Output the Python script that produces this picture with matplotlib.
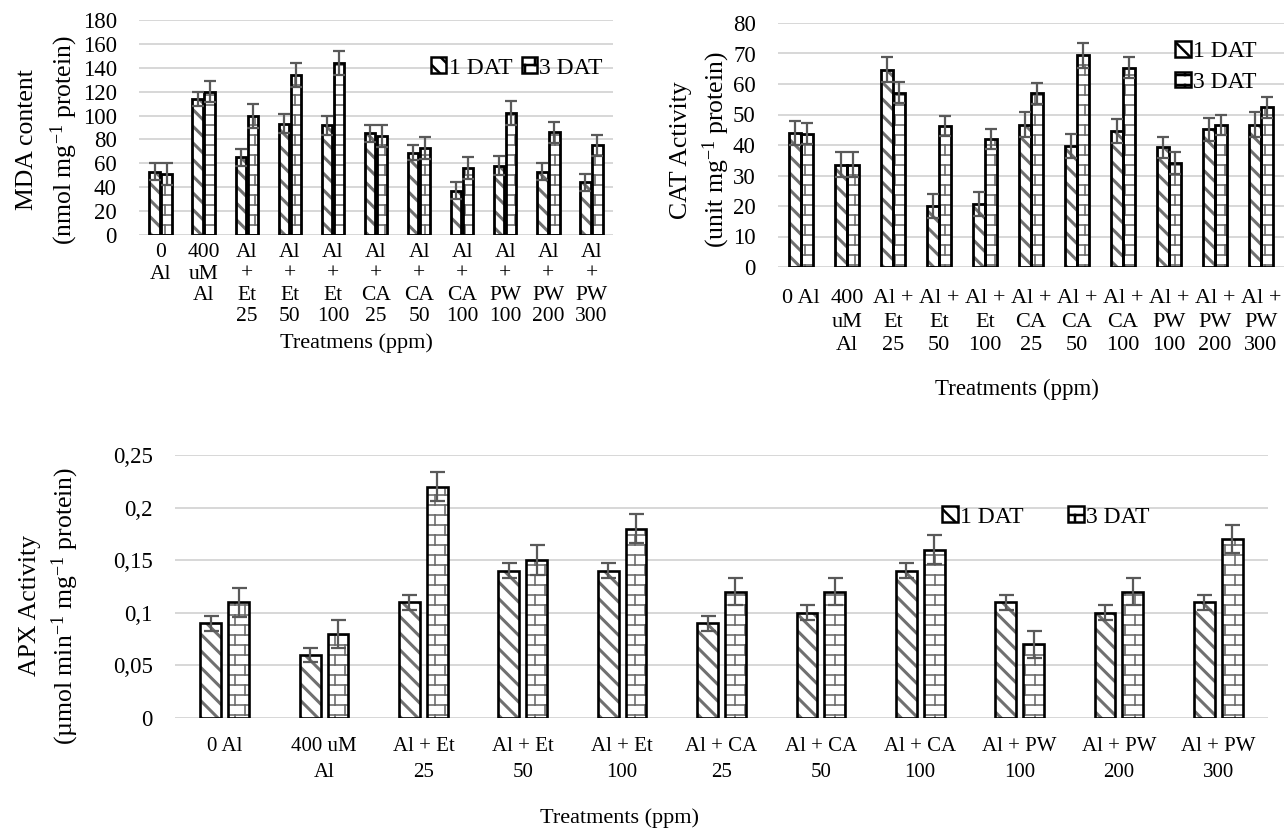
import numpy as np
import matplotlib
matplotlib.use("Agg")
import matplotlib.pyplot as plt
import matplotlib.hatch as mhatch
from matplotlib.path import Path
from matplotlib.patches import Patch

# ---------------- data ----------------
MDA_LABELS = ['0\nAl', '400\nuM\nAl', 'Al\n+\nEt\n25', 'Al\n+\nEt\n50', 'Al\n+\nEt\n100',
              'Al\n+\nCA\n25', 'Al\n+\nCA\n50', 'Al\n+\nCA\n100', 'Al\n+\nPW\n100',
              'Al\n+\nPW\n200', 'Al\n+\nPW\n300']
MDA_1DAT = [53, 114, 65, 93, 92, 85, 69, 37, 58, 53, 44]
MDA_1DAT_ERR = [7, 6, 7, 8, 8, 7, 6, 7, 8, 7, 7]
MDA_3DAT = [51, 120, 100, 134, 144, 83, 73, 56, 102, 86, 75]
MDA_3DAT_ERR = [9, 9, 10, 10, 10, 9, 9, 9, 10, 9, 9]
MDA_YTICKS = [0, 20, 40, 60, 80, 100, 120, 140, 160, 180]

CAT_LABELS = ['0 Al', '400\nuM\nAl', 'Al +\nEt\n25', 'Al +\nEt\n50', 'Al +\nEt\n100',
              'Al +\nCA\n25', 'Al +\nCA\n50', 'Al +\nCA\n100', 'Al +\nPW\n100',
              'Al +\nPW\n200', 'Al +\nPW\n300']
CAT_1DAT = [44, 33.6, 64.7, 20, 20.6, 46.7, 39.6, 44.6, 39.2, 45.1, 46.7]
CAT_1DAT_ERR = [4, 4, 4, 4, 4, 4, 4, 4, 3.5, 3.8, 4]
CAT_3DAT = [43.7, 33.6, 57.2, 46.3, 42.1, 56.9, 69.4, 65.3, 34.1, 46.7, 52.3]
CAT_3DAT_ERR = [3.4, 4, 3.5, 3.3, 3.3, 3.3, 4, 3.4, 3.6, 3.3, 3.5]
CAT_YTICKS = [0, 10, 20, 30, 40, 50, 60, 70, 80]

APX_LABELS = ['0 Al', '400 uM\nAl', 'Al + Et\n25', 'Al + Et\n50', 'Al + Et\n100',
              'Al + CA\n25', 'Al + CA\n50', 'Al + CA\n100', 'Al + PW\n100',
              'Al + PW\n200', 'Al + PW\n300']
APX_1DAT = [0.09, 0.06, 0.11, 0.14, 0.14, 0.09, 0.10, 0.14, 0.11, 0.10, 0.11]
APX_1DAT_ERR = [0.007, 0.007, 0.007, 0.007, 0.007, 0.007, 0.007, 0.007, 0.007, 0.007, 0.007]
APX_3DAT = [0.11, 0.08, 0.22, 0.15, 0.18, 0.12, 0.12, 0.16, 0.07, 0.12, 0.17]
APX_3DAT_ERR = [0.014, 0.013, 0.014, 0.014, 0.014, 0.013, 0.013, 0.014, 0.013, 0.013, 0.013]
APX_YTICKS = [0, 0.05, 0.1, 0.15, 0.2, 0.25]
APX_YTICKLABELS = ['0', '0,05', '0,1', '0,15', '0,2', '0,25']

SERIES = ['1 DAT', '3 DAT']


# ---------------- brick hatch (replaces the 'O' pattern) ----------------
class BrickHatch(mhatch.HatchPatternBase):
    def __init__(self, hatch, density):
        k = hatch.count('O')
        self.rows = 10 * k
        self.cols = self.rows // 2
        if self.rows:
            self.num_vertices = 2 * self.rows + 2 * self.rows * self.cols + 2 * self.cols
        else:
            self.num_vertices = 0

    def set_vertices_and_codes(self, vertices, codes):
        n = self.rows
        h = 1.0 / n
        i = 0

        def seg(x0, y0, x1, y1):
            nonlocal i
            vertices[i] = (x0, y0)
            vertices[i + 1] = (x1, y1)
            codes[i] = Path.MOVETO
            codes[i + 1] = Path.LINETO
            i += 2

        for r in range(n):
            y = (r + 0.5) * h
            seg(0.0, y, 1.0, y)
        for r in range(n):
            for c in range(self.cols):
                x = (2 * c + (r % 2) + 0.5) * h
                y0 = (r + 0.5) * h
                if r < n - 1:
                    seg(x, y0, x, y0 + h)
                else:
                    seg(x, y0, x, 1.0)
                    seg(x, 0.0, x, 0.5 * h)


mhatch._hatch_types = [BrickHatch if t is mhatch.LargeCircles else t
                       for t in mhatch._hatch_types]

# ---------------- style ----------------
plt.rcParams['font.family'] = ['Liberation Serif', 'DejaVu Serif']
plt.rcParams['mathtext.fontset'] = 'custom'
plt.rcParams['mathtext.rm'] = 'Liberation Serif'
plt.rcParams['mathtext.it'] = 'Liberation Serif:italic'
plt.rcParams['hatch.linewidth'] = 1.8

W, H = 1286, 834
STRIPE = '#707070'
BRICK = '#6e6e6e'
ERRC = '#595959'
GRIDC = '#d4d4d4'
STRIPE_HATCH = '\\\\'
BRICK_HATCH = 'O'

fig = plt.figure(figsize=(W / 100, H / 100), dpi=100)
fig.patch.set_facecolor('white')


def px_axes(x0, y0, x1, y1):
    return fig.add_axes([x0 / W, 1 - y1 / H, (x1 - x0) / W, (y1 - y0) / H])


def set_hlw(container, lw):
    for p in container.patches:
        if hasattr(p, 'set_hatch_linewidth'):
            p.set_hatch_linewidth(lw)


def panel(ax, v1, e1, v3, e3, width, off, cap, edge_lw):
    x = np.arange(len(v1))
    with plt.rc_context({'hatch.linewidth': 2.2}):
        b1 = ax.bar(x - off, v1, width, color='white', edgecolor=STRIPE, hatch=STRIPE_HATCH,
                    linewidth=0, zorder=2)
    set_hlw(b1, 2.2)
    with plt.rc_context({'hatch.linewidth': 1.2}):
        b3 = ax.bar(x + off, v3, width, color='white', edgecolor=BRICK, hatch=BRICK_HATCH,
                    linewidth=0, zorder=2)
    set_hlw(b3, 1.2)
    ax.bar(x - off, v1, width, fill=False, edgecolor='black', linewidth=edge_lw, zorder=3)
    ax.bar(x + off, v3, width, fill=False, edgecolor='black', linewidth=edge_lw, zorder=3)
    ax.errorbar(x - off, v1, yerr=e1, fmt='none', ecolor=ERRC, elinewidth=1.6,
                capsize=cap, capthick=1.6, zorder=4)
    ax.errorbar(x + off, v3, yerr=e3, fmt='none', ecolor=ERRC, elinewidth=1.6,
                capsize=cap, capthick=1.6, zorder=4)
    ax.set_xlim(-0.5, len(v1) - 0.5)
    for s in ax.spines.values():
        s.set_visible(False)
    ax.yaxis.grid(True, color=GRIDC, linewidth=1.3)
    ax.set_axisbelow(True)
    ax.tick_params(length=0)
    ax.set_xticks(x)


def legend_handles():
    h1 = Patch(facecolor='white', edgecolor='black', hatch=STRIPE_HATCH, linewidth=1.8)
    h3 = Patch(facecolor='white', edgecolor='black', hatch=BRICK_HATCH, linewidth=1.8)
    return [h1, h3]


def fig_pt(x, y):
    return (x / W, 1 - y / H)


# ---------------- MDA (top left) ----------------
ax1 = px_axes(139, 20, 613, 235)
panel(ax1, MDA_1DAT, MDA_1DAT_ERR, MDA_3DAT, MDA_3DAT_ERR, 0.24, 0.14, 4.3, 2.0)
ax1.set_ylim(0, 180)
ax1.set_yticks(MDA_YTICKS)
ax1.set_xticklabels(MDA_LABELS, fontsize=15.5, linespacing=1.16)
ax1.tick_params(axis='y', labelsize=16.5, pad=16)
ax1.tick_params(axis='x', pad=6)
ax1.set_ylabel('MDA content\n(nmol mg$^{-1}$ protein)', fontsize=18.5, linespacing=1.5,
               va='center')
ax1.yaxis.set_label_coords(*fig_pt(48, 140), transform=fig.transFigure)
ax1.set_xlabel('Treatmens (ppm)', fontsize=16, va='center')
ax1.xaxis.set_label_coords(*fig_pt(356, 343), transform=fig.transFigure)
ax1.legend(legend_handles(), SERIES, loc='center', ncol=2, frameon=False, fontsize=17,
           bbox_to_anchor=fig_pt(517, 68), bbox_transform=fig.transFigure,
           handlelength=0.65, handleheight=0.65, handletextpad=0.1, columnspacing=0.4,
           borderpad=0, borderaxespad=0)

# ---------------- CAT (top right) ----------------
ax2 = px_axes(778, 23, 1284, 267)
panel(ax2, CAT_1DAT, CAT_1DAT_ERR, CAT_3DAT, CAT_3DAT_ERR, 0.25, 0.135, 4.3, 2.0)
ax2.set_ylim(0, 80)
ax2.set_yticks(CAT_YTICKS)
ax2.set_xticklabels(CAT_LABELS, fontsize=16, linespacing=1.32)
ax2.tick_params(axis='y', labelsize=16.5, pad=16)
ax2.tick_params(axis='x', pad=16)
ax2.set_ylabel('CAT Activity\n(unit mg$^{-1}$ protein)', fontsize=18.5, linespacing=1.35,
               va='center')
ax2.yaxis.set_label_coords(*fig_pt(701, 150), transform=fig.transFigure)
ax2.set_xlabel('Treatments (ppm)', fontsize=16.5, va='center')
ax2.xaxis.set_label_coords(*fig_pt(1017, 389), transform=fig.transFigure)
ax2.legend(legend_handles(), SERIES, loc='center', ncol=1, frameon=False, fontsize=17,
           bbox_to_anchor=fig_pt(1216, 67), bbox_transform=fig.transFigure,
           handlelength=0.65, handleheight=0.65, handletextpad=0.1, labelspacing=0.4,
           borderpad=0, borderaxespad=0)

# ---------------- APX (bottom) ----------------
ax3 = px_axes(175, 455, 1268, 718)
panel(ax3, APX_1DAT, APX_1DAT_ERR, APX_3DAT, APX_3DAT_ERR, 0.21, 0.14, 5.4, 1.9)
ax3.set_ylim(0, 0.25)
ax3.set_yticks(APX_YTICKS, APX_YTICKLABELS)
ax3.set_xticklabels(APX_LABELS, fontsize=15, linespacing=1.45)
ax3.tick_params(axis='y', labelsize=16.5, pad=16)
ax3.tick_params(axis='x', pad=14)
ax3.set_ylabel('APX Activity\n(µmol min$^{-1}$ mg$^{-1}$ protein)', fontsize=18.5,
               linespacing=1.35, va='center')
ax3.yaxis.set_label_coords(*fig_pt(50, 606), transform=fig.transFigure)
ax3.set_xlabel('Treatments (ppm)', fontsize=16, va='center')
ax3.xaxis.set_label_coords(*fig_pt(619, 818), transform=fig.transFigure)
ax3.legend(legend_handles(), SERIES, loc='center', ncol=2, frameon=False, fontsize=17,
           bbox_to_anchor=fig_pt(1046, 517), bbox_transform=fig.transFigure,
           handlelength=0.65, handleheight=0.65, handletextpad=0.1, columnspacing=1.9,
           borderpad=0, borderaxespad=0)

fig.savefig('out.png', dpi=100, facecolor='white')
